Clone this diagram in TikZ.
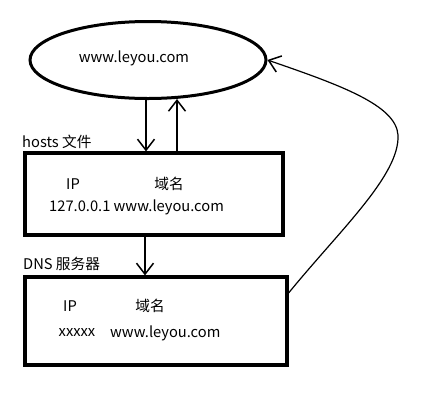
\documentclass[tikz,border=0pt]{standalone}
\usepackage{fontspec}
\setmainfont{Noto Sans CJK SC}
\usetikzlibrary{arrows.meta,shapes.geometric}
\tikzset{
  site/.style={ellipse,draw,line width=3pt,minimum width=236pt,minimum height=77pt},
  table/.style={draw,line width=3.2pt},
  label/.style={font=\fontsize{14.7}{16}\selectfont,inner sep=0pt},
  flow/.style={-{Straight Barb[length=11pt,width=17pt,line width=1.5pt]},line width=1.6pt},
}

\begin{document}
\begin{tikzpicture}[x=1pt,y=-1pt]
  \useasboundingbox (0,0) rectangle (432,400);
  % the site
  \node[site] (site) at (148,60) {};
  \node[label] (sitename) at (134,58) {www.leyou.com};
  % hosts file
  \node[label,anchor=west] (hostsname) at (22,142) {hosts 文件};
  \node[table,minimum width=258pt,minimum height=82pt] (hosts) at (154,194) {};
  \node[label] (hostsip) at (73,184) {IP};
  \node[label] (hostsdomain) at (169,184) {域名};
  \node[label,anchor=west] (hostsrow) at (49,207) {127.0.0.1 www.leyou.com};
  % dns server
  \node[label,anchor=west] (dnsname) at (23,264) {DNS 服务器};
  \node[table,minimum width=262pt,minimum height=88pt] (dns) at (156,321) {};
  \node[label] (dnsip) at (70,306) {IP};
  \node[label] (dnsdomain) at (150,306) {域名};
  \node[label] (dnsaddr) at (77,333) {xxxxx};
  \node[label,anchor=west] (dnsrow) at (110,333) {www.leyou.com};
  % lookups
  \draw[flow] ([xshift=-2pt]site.south) -- ([xshift=-8pt]hosts.north);
  \draw[flow] ([xshift=23pt]hosts.north) -- ([xshift=29pt,yshift=1pt]site.south);
  \draw[flow] ([xshift=-9pt]hosts.south) -- ([xshift=-11pt]dns.north);
  \draw[flow,line width=1.2pt] ([yshift=28pt]dns.east) .. controls (340,230) and (400,175) .. (398,135)
    .. controls (396,105) and (340,85) .. (site.east);
\end{tikzpicture}
\end{document}
